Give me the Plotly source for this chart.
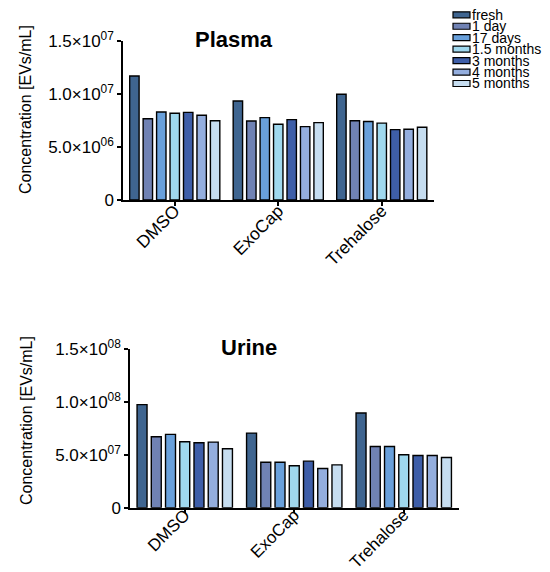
import plotly.graph_objects as go

# ---------------- data ----------------
categories = ["DMSO", "ExoCap", "Trehalose"]
series_names = ["fresh", "1 day", "17 days", "1.5 months", "3 months", "4 months", "5 months"]
series_colors = ["#3F6590", "#7082B4", "#69A0DB", "#9FD8EE", "#3E5EA8", "#94AEDE", "#C6DDF0"]

# Plasma concentration [EVs/mL], one list per time point, values for DMSO, ExoCap, Trehalose
plasma_fresh = [1.17e7, 9.34e6, 9.97e6]
plasma_1day = [7.67e6, 7.45e6, 7.48e6]
plasma_17days = [8.30e6, 7.77e6, 7.40e6]
plasma_1_5months = [8.18e6, 7.14e6, 7.25e6]
plasma_3months = [8.27e6, 7.58e6, 6.64e6]
plasma_4months = [7.99e6, 6.92e6, 6.67e6]
plasma_5months = [7.48e6, 7.30e6, 6.86e6]

# Urine concentration [EVs/mL]
urine_fresh = [9.74e7, 7.05e7, 8.95e7]
urine_1day = [6.70e7, 4.30e7, 5.79e7]
urine_17days = [6.93e7, 4.30e7, 5.79e7]
urine_1_5months = [6.23e7, 3.96e7, 5.00e7]
urine_3months = [6.14e7, 4.40e7, 4.94e7]
urine_4months = [6.20e7, 3.70e7, 4.94e7]
urine_5months = [5.57e7, 4.05e7, 4.74e7]

plasma_ticks = [0, 5e6, 1e7, 1.5e7]
plasma_ticktext = ["0", "5.0×10<sup>06</sup>", "1.0×10<sup>07</sup>", "1.5×10<sup>07</sup>"]
urine_ticks = [0, 5e7, 1e8, 1.5e8]
urine_ticktext = ["0", "5.0×10<sup>07</sup>", "1.0×10<sup>08</sup>", "1.5×10<sup>08</sup>"]

plasma_series = [plasma_fresh, plasma_1day, plasma_17days, plasma_1_5months,
                 plasma_3months, plasma_4months, plasma_5months]
urine_series = [urine_fresh, urine_1day, urine_17days, urine_1_5months,
                urine_3months, urine_4months, urine_5months]

# ---------------- figure ----------------
FONT = "Liberation Sans, Arial, Helvetica, sans-serif"
W, H = 550, 572

fig = go.Figure()
for name, color, vals in zip(series_names, series_colors, plasma_series):
    fig.add_trace(go.Bar(x=categories, y=vals, name=name, marker=dict(color=color, line=dict(color="black", width=1.4)),
                         xaxis="x", yaxis="y", showlegend=False))
for name, color, vals in zip(series_names, series_colors, urine_series):
    fig.add_trace(go.Bar(x=categories, y=vals, name=name, marker=dict(color=color, line=dict(color="black", width=1.4)),
                         xaxis="x2", yaxis="y2", showlegend=False))

def px_x(p):
    return p / W

def px_y(p):
    return (H - p) / H

common_x = dict(showline=True, linecolor="black", linewidth=1.5, ticks="outside", ticklen=4,
                tickcolor="black", tickwidth=1.5, tickangle=-45, showgrid=False, zeroline=False,
                range=[-0.5, 2.5], automargin=False, ticklabelshift=0)
common_y = dict(showline=True, linecolor="black", linewidth=1.5, ticks="outside", ticklen=4,
                tickcolor="black", tickwidth=1.5, showgrid=False, zeroline=False, automargin=False,
                tickfont=dict(family=FONT, size=17, color="black"), ticklabelstandoff=0)

fig.update_layout(
    width=W, height=H, autosize=False,
    margin=dict(l=0, r=0, t=0, b=0, pad=0),
    paper_bgcolor="white", plot_bgcolor="white",
    barmode="group", bargap=0.09, bargroupgap=0.3,
    xaxis=dict(domain=[px_x(123), px_x(433.5)], anchor="y", ticklabelstandoff=-12,
               tickfont=dict(family=FONT, size=17.5, color="black"), **common_x),
    yaxis=dict(domain=[px_y(200), px_y(41)], anchor="x", range=[0, 1.5e7],
               tickvals=plasma_ticks, ticktext=plasma_ticktext, **common_y),
    xaxis2=dict(domain=[px_x(130), px_x(458.5)], anchor="y2", ticklabelstandoff=-15,
                tickfont=dict(family=FONT, size=17, color="black"), **common_x),
    yaxis2=dict(domain=[px_y(507.7), px_y(349)], anchor="x2", range=[0, 1.5e8],
                tickvals=urine_ticks, ticktext=urine_ticktext, **common_y),
    showlegend=False,
)

annotations = [
    dict(text="<b>Plasma</b>", x=px_x(234), y=px_y(40), xref="paper", yref="paper",
         xanchor="center", yanchor="middle", showarrow=False, font=dict(family=FONT, size=22, color="black")),
    dict(text="<b>Urine</b>", x=px_x(248.5), y=px_y(348), xref="paper", yref="paper",
         xanchor="center", yanchor="middle", showarrow=False, font=dict(family=FONT, size=22, color="black")),
    dict(text="Concentration [EVs/mL]", x=px_x(26), y=px_y(110), xref="paper", yref="paper",
         xanchor="center", yanchor="middle", textangle=-90, showarrow=False,
         font=dict(family=FONT, size=16, color="black")),
    dict(text="Concentration [EVs/mL]", x=px_x(26), y=px_y(421), xref="paper", yref="paper",
         xanchor="center", yanchor="middle", textangle=-90, showarrow=False,
         font=dict(family=FONT, size=16, color="black")),
]

# manual compact legend
shapes = []
leg_top, leg_step = 14.8, 11.45
for i, (name, color) in enumerate(zip(series_names, series_colors)):
    cy = leg_top + i * leg_step
    shapes.append(dict(type="rect", xref="paper", yref="paper",
                       x0=px_x(453), x1=px_x(470), y0=px_y(cy + 3), y1=px_y(cy - 3),
                       fillcolor=color, line=dict(color="black", width=1.2)))
    annotations.append(dict(text=name, x=px_x(471), y=px_y(cy), xref="paper", yref="paper",
                            xanchor="left", yanchor="middle", showarrow=False, borderpad=0,
                            font=dict(family=FONT, size=14, color="black")))

fig.update_layout(annotations=annotations, shapes=shapes)

fig.write_html("out.html", config={"displayModeBar": False},
               post_script="document.body.style.margin='0';")
